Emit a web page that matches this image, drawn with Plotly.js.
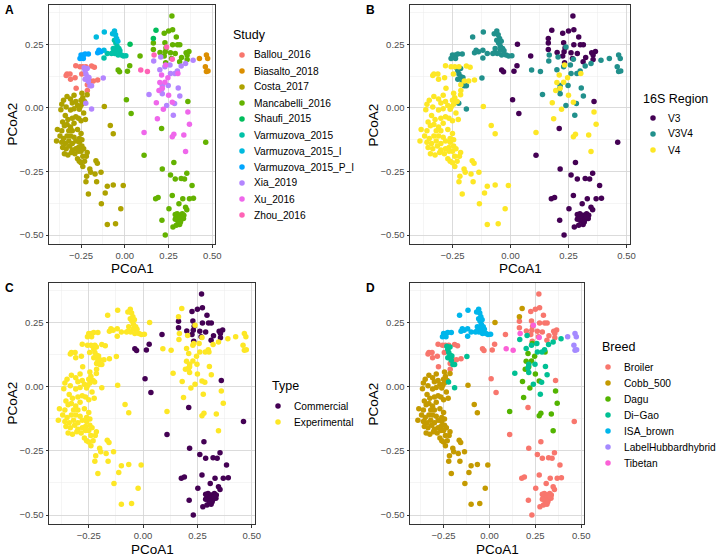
<!DOCTYPE html>
<html>
<head>
<meta charset="utf-8">
<script src="https://cdn.plot.ly/plotly-3.0.1.min.js"></script>
<style>html,body{margin:0;padding:0;background:#fff}#chart{width:722px;height:558px}</style>
</head>
<body>
<div id="chart"></div>
<script>
// ---------------- DATA (PCoA coordinates) ----------------
const studies = ["Ballou_2016","Biasalto_2018","Costa_2017","Mancabelli_2016","Shaufi_2015",
  "Varmuzova_2015","Varmuzova_2015_I","Varmuzova_2015_P_I","Xia_2019","Xu_2016","Zhou_2016"];
const studyColors = ["#F8766D","#DB8E00","#AEA200","#64B200","#00BD5C","#00C1A7","#00BADE","#00A6FF","#B385FF","#EF67EB","#FF63B6"];

const regions = ["V3","V3V4","V4"];
const regionColors = ["#440154","#21908C","#FDE725"];
const types = ["Commercial","Experimental"];
const typeColors = ["#440154","#FDE725"];
const breeds = ["Broiler","Cobb_500","Dagu","Di\u2212Gao","ISA_brown","LabelHubbardhybrid","Tibetan"];
const breedColors = ["#F8766D","#C49A00","#53B400","#00C094","#00B6EB","#A58AFF","#FB61D7"];

// study metadata
const studyRegion = ["V4","V3V4","V4","V3","V3","V3V4","V3V4","V3V4","V3V4","V4","V3V4"];
const studyType = ["Experimental","Experimental","Experimental","Commercial","Experimental","Experimental","Experimental","Experimental","Experimental","Experimental","Experimental"];
const studyBreed = ["Broiler","LabelHubbardhybrid","Cobb_500","Broiler","Cobb_500","ISA_brown","ISA_brown","ISA_brown","Di\u2212Gao","Dagu","Tibetan"];

const ballouX = [-0.28,-0.256,-0.24,-0.222,-0.19,-0.174,-0.33,-0.313,-0.31,-0.284,-0.199,-0.18,-0.155,-0.214,-0.278,-0.214,-0.246,-0.335];
const ballouY = [0.166,0.162,0.162,0.162,0.165,0.16,0.134,0.134,0.113,0.119,0.106,0.106,0.11,0.091,0.078,0.069,0.134,0.128];

const biasaltoX = [0.426,0.466,0.473,0.46,0.466,0.475];
const biasaltoY = [0.195,0.208,0.195,0.162,0.143,0.145];

const costaX = [-0.35,-0.33,-0.31,-0.29,-0.36,-0.30,-0.28,-0.27,-0.255,-0.245,-0.26,-0.29,-0.31,-0.335,-0.365,-0.245,-0.24,-0.215,-0.23,-0.25,
  -0.34,-0.325,-0.30,-0.28,-0.355,-0.33,-0.31,-0.29,-0.265,-0.25,-0.235,-0.385,-0.36,-0.345,-0.32,-0.30,-0.27,-0.33,-0.31,-0.29,-0.26,-0.37,-0.35,-0.39,
  -0.36,-0.34,-0.32,-0.30,-0.28,-0.26,-0.245,-0.355,-0.335,-0.315,-0.30,-0.28,-0.265,-0.245,-0.345,-0.325,-0.305,-0.285,-0.265,-0.25,-0.235,
  -0.27,-0.26,-0.25,-0.24,-0.22,-0.215,-0.23,-0.165,-0.157,-0.195,-0.218,-0.222,-0.208,-0.161,-0.136,-0.134,-0.112,-0.1,-0.066,-0.009,-0.023,-0.1,-0.053,
  -0.117,-0.083,-0.066,-0.24,-0.2,-0.17,-0.25,-0.225];
const costaY = [0.03,0.045,0.035,0.05,0.015,0.02,0.025,0.01,0.005,0.015,-0.005,-0.003,-0.008,0.004,-0.007,0.058,0.04,0.052,0.025,0.03,
  -0.03,-0.045,-0.04,-0.035,-0.055,-0.065,-0.075,-0.06,-0.04,-0.05,-0.02,-0.085,-0.09,-0.07,-0.09,-0.09,-0.085,-0.11,-0.11,-0.115,-0.12,-0.11,-0.12,-0.13,
  -0.135,-0.14,-0.13,-0.14,-0.13,-0.135,-0.125,-0.155,-0.16,-0.15,-0.165,-0.16,-0.155,-0.15,-0.18,-0.185,-0.175,-0.18,-0.17,-0.17,-0.16,
  -0.2,-0.21,-0.215,-0.19,-0.19,-0.175,-0.21,-0.208,-0.217,-0.253,-0.269,-0.29,-0.338,-0.29,-0.253,-0.377,-0.334,-0.308,-0.303,-0.305,-0.396,-0.458,-0.455,
  0.006,-0.069,-0.101,-0.23,-0.24,-0.26,-0.1,-0.045];

const mancabelliX = [0.269,0.225,0.25,0.273,0.294,0.229,0.273,0.301,0.314,0.163,0.235,0.201,0.163,0.231,0.261,0.288,0.35,0.366,0.356,0.087,0.225,0.267,0.324,0.356,
  0.028,-0.038,-0.03,0.015,0.233,0.313,
  0.009,0.036,0.21,0.11,0.36,0.462,0.214,0.28,
  0.261,0.288,0.354,0.322,0.341,0.384,0.176,0.19,0.271,0.331,0.369,0.392,0.309,0.347,0.354,0.252,0.212,0.231,0.275,0.294,0.313,
  0.288,0.299,0.313,0.328,0.337,0.294,0.309,0.322,0.335,0.303,0.318,0.288,0.328];
const mancabelliY = [0.362,0.294,0.303,0.308,0.279,0.257,0.249,0.249,0.249,0.256,0.236,0.218,0.23,0.221,0.217,0.214,0.217,0.222,0.208,0.204,0.204,0.195,0.199,0.191,
  0.166,0.149,0.142,0.144,0.178,0.182,
  0.032,-0.022,-0.081,-0.186,0.025,-0.135,-0.24,-0.214,
  -0.264,-0.279,-0.257,-0.277,-0.279,-0.305,-0.357,-0.352,-0.344,-0.357,-0.357,-0.355,-0.377,-0.39,-0.4,-0.396,-0.442,-0.5,-0.468,-0.461,-0.458,
  -0.419,-0.416,-0.422,-0.416,-0.422,-0.43,-0.435,-0.438,-0.435,-0.445,-0.448,-0.438,-0.428];

const shaufiX = [0.178,0.163,0.03];
const shaufiY = [0.306,0.273,0.251];

const varmuzovaX = [-0.1,-0.119,-0.068,-0.057,-0.044,-0.059,-0.051,-0.044,-0.034,-0.028,-0.019,-0.008,0.006,-0.038,-0.066,-0.076];
const varmuzovaY = [0.214,0.197,0.218,0.214,0.227,0.266,0.256,0.243,0.234,0.225,0.208,0.204,0.205,0.208,0.234,0.214];

const varmuzovaIX = [-0.163,-0.117,-0.07,-0.059,-0.053,-0.047,-0.04,-0.119];
const varmuzovaIY = [0.279,0.299,0.292,0.303,0.288,0.273,0.262,0.227];

const varmuzovaPIX = [-0.256,-0.25,-0.237,-0.227,-0.208,-0.155,-0.148,-0.138,-0.237];
const varmuzovaPIY = [0.195,0.208,0.208,0.212,0.212,0.217,0.227,0.221,0.195];

const xiaX = [-0.227,-0.222,-0.214,-0.227,-0.208,-0.199,-0.19,-0.123,-0.223,-0.19,-0.232,-0.215,-0.205,
  0.165,0.205,0.229,0.258,0.322,0.347,0.39,0.261,0.286,0.214,0.21,0.248,0.305,0.138,0.214,0.314,0.239,0.284,0.277,0.2,0.3];
const xiaY = [0.147,0.134,0.123,0.113,0.104,0.087,0.087,0.118,0.019,-0.004,0.158,0.155,0.12,
  0.185,0.2,0.162,0.169,0.165,0.175,0.188,0.136,0.136,0.088,0.073,0.088,0.079,0.053,0.056,0.047,0.01,0.018,-0.029,0.15,0.145];

const xuX = [0.18,0.22,0.271,0.36,0.186,0.11,0.369,0.28,0.271,0.337,0.347,0.214,0.195,0.229,0.246,0.303,0.21,0.233,0.25,0.2];
const xuY = [0.021,-0.005,0.023,-0.016,-0.042,-0.096,-0.064,-0.103,-0.113,-0.106,-0.171,0.078,0.069,0.101,0.119,0.136,0.13,0.169,0.05,0.1];

const zhouX = [0.239,0.167,0.271,0.091,0.129];
const zhouY = [0.24,0.208,0.192,0.149,0.143];

const studyX = [ballouX,biasaltoX,costaX,mancabelliX,shaufiX,varmuzovaX,varmuzovaIX,varmuzovaPIX,xiaX,xuX,zhouX];
const studyY = [ballouY,biasaltoY,costaY,mancabelliY,shaufiY,varmuzovaY,varmuzovaIY,varmuzovaPIY,xiaY,xuY,zhouY];

const xTicks = [-0.25,0,0.25,0.5];
const yTicks = [-0.5,-0.25,0,0.25];

// ---------------- LAYOUT ----------------
const W = 722, H = 558;
const FONT = "Liberation Sans, Arial, Helvetica, sans-serif";
const px = v => v / W, py = v => 1 - v / H;

const panels = [
  {tag:"A", title:"Study", cats:studies, colors:studyColors, meta:null,
   box:[49,215,5,244], leg:{x:231,ty:35,y0:55,mx:242,tx:252}},
  {tag:"B", title:"16S Region", cats:regions, colors:regionColors, meta:studyRegion,
   box:[410,630,5,244], leg:{x:641,ty:99,y0:118,mx:653,tx:666}},
  {tag:"C", title:"Type", cats:types, colors:typeColors, meta:studyType,
   box:[49,255,283,524], leg:{x:270,ty:386,y0:406,mx:278,tx:292}},
  {tag:"D", title:"Breed", cats:breeds, colors:breedColors, meta:studyBreed,
   box:[410,584,283,524], leg:{x:600,ty:347,y0:367,mx:608,tx:622}}
];

const traces = [], annotations = [], shapes = [];
const layout = {width:W, height:H, margin:{l:0,r:0,t:0,b:0}, showlegend:false,
  paper_bgcolor:"#fff", plot_bgcolor:"#fff", font:{family:FONT, color:"#000"}};

panels.forEach((p, i) => {
  const n = i === 0 ? "" : String(i + 1);
  const xa = "x" + n, ya = "y" + n;
  const axCommon = {
    dtick:0.25, tick0:0, tickformat:".2f", showgrid:true, gridcolor:"#d4d4d4", gridwidth:0.8,
    minor:{dtick:0.125, tick0:0, showgrid:true, gridcolor:"#ebebeb", gridwidth:0.5},
    zeroline:false, showline:true, mirror:true, linecolor:"#333", linewidth:1,
    ticks:"outside", ticklen:2.5, tickcolor:"#333", tickwidth:1,
    tickfont:{size:9.5, color:"#4d4d4d", family:FONT}, fixedrange:true
  };
  layout["xaxis" + n] = Object.assign({}, axCommon, {anchor:ya, domain:[px(p.box[0]), px(p.box[1])],
    range:[-0.433, 0.515], tickvals:xTicks});
  layout["yaxis" + n] = Object.assign({}, axCommon, {anchor:xa, domain:[py(p.box[3]), py(p.box[2])],
    range:[-0.535, 0.405], tickvals:yTicks});

  p.cats.forEach((c, ci) => {
    const xs = [], ys = [];
    studies.forEach((s, si) => {
      const cat = p.meta ? p.meta[si] : s;
      if (cat === c) { xs.push(...studyX[si]); ys.push(...studyY[si]); }
    });
    traces.push({type:"scatter", mode:"markers", x:xs, y:ys, xaxis:xa, yaxis:ya, name:c,
      marker:{color:p.colors[ci], size:5.5, line:{width:0}}, hoverinfo:"skip"});
    // legend key
    const ly = p.leg.y0 + 16 * ci;
    shapes.push({type:"circle", xref:"paper", yref:"paper", xsizemode:"pixel", ysizemode:"pixel",
      xanchor:px(p.leg.mx), yanchor:py(ly), x0:-2.75, x1:2.75, y0:-2.75, y1:2.75,
      fillcolor:p.colors[ci], line:{width:0}});
    annotations.push({xref:"paper", yref:"paper", x:px(p.leg.tx), y:py(ly), text:c, showarrow:false,
      xanchor:"left", yanchor:"middle", font:{size:10.2, color:"#000", family:FONT}});
  });
  // legend title
  annotations.push({xref:"paper", yref:"paper", x:px(p.leg.x), y:py(p.leg.ty), text:p.title, showarrow:false,
    xanchor:"left", yanchor:"middle", font:{size:12.5, color:"#000", family:FONT}});
  // axis titles
  const cx = (p.box[0] + p.box[1]) / 2, cy = (p.box[2] + p.box[3]) / 2;
  annotations.push({xref:"paper", yref:"paper", x:px(cx), y:py(p.box[3] + 25), text:"PCoA1", showarrow:false,
    xanchor:"center", yanchor:"middle", font:{size:13.5, color:"#000", family:FONT}});
  annotations.push({xref:"paper", yref:"paper", x:px(p.box[0] - 37), y:py(cy), text:"PCoA2", showarrow:false,
    textangle:-90, xanchor:"center", yanchor:"middle", font:{size:13.5, color:"#000", family:FONT}});
  // panel tag
  annotations.push({xref:"paper", yref:"paper", x:px(p.box[0] - 46), y:py(p.box[2] + 5), text:"<b>" + p.tag + "</b>",
    showarrow:false, xanchor:"left", yanchor:"middle", font:{size:12, color:"#000", family:FONT}});
});

layout.annotations = annotations;
layout.shapes = shapes;
Plotly.newPlot("chart", traces, layout, {staticPlot:true, displayModeBar:false});
</script>
</body>
</html>
